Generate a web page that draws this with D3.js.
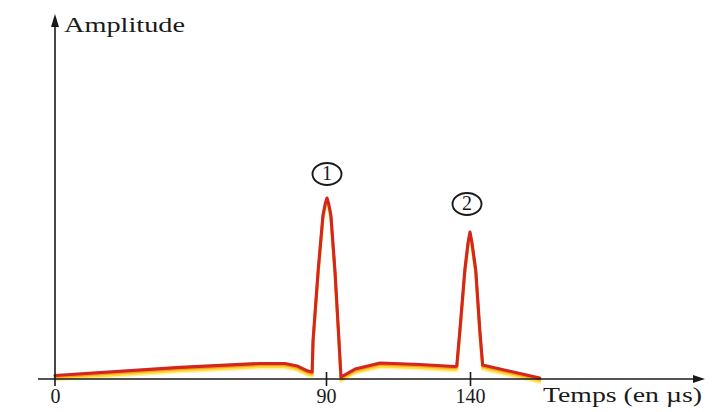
<!DOCTYPE html>
<html>
<head>
<meta charset="utf-8">
<script src="https://cdn.jsdelivr.net/npm/d3@7"></script>
<style>
  html, body { margin: 0; padding: 0; background: #ffffff; }
  svg { display: block; }
  text { font-family: "Liberation Serif", "Times New Roman", serif; fill: #1a1a1a; }
</style>
</head>
<body>
<svg id="chart" width="718" height="412"></svg>
<script>
// ---- Data ----
const tickValues = [0, 90, 140];
const tickLabels = ["0", "90", "140"];
const timeUs = [0, 41.5, 68.1, 76.4, 80.4, 84.0, 85.4, 85.7, 87.4, 89.0, 89.8, 90.35, 90.87, 91.7, 93.1, 94.5, 95.2,
                100.1, 108.8, 122.6, 134.7, 135.4, 136.5, 138.2, 139.3, 140.0, 140.7, 142.0, 143.4, 144.4, 164.2];
const amplitude = [0.19, 0.64, 0.86, 0.86, 0.72, 0.44, 0.39, 2.15, 6.02, 9.06, 9.72, 10.0, 9.72, 9.06, 6.02, 2.15, 0.11,
                   0.55, 0.88, 0.80, 0.69, 0.72, 2.71, 6.02, 7.51, 8.12, 7.51, 6.02, 2.71, 0.77, 0.06];
const peakLabels = ["1", "2"];
const peakLabelTime = [90.35, 138.96];
const peakLabelAmp = [11.33, 9.67];
const yAxisTitle = "Amplitude";
const xAxisTitle = "Temps (en µs)";

// ---- Layout ----
const svg = d3.select("#chart");
const x = d3.scaleLinear().domain([0, 90, 140]).range([55, 326, 470]);
const y = d3.scaleLinear().domain([0, 20]).range([379, 17]);
const x0 = x(0), y0 = y(0);

const pts = timeUs.map((t, i) => [t, amplitude[i]]);
const line = d3.line().x(d => x(d[0])).y(d => y(d[1])).curve(d3.curveLinear);

// signal: yellow/orange glow under a red line
const sig = svg.append("g").attr("fill", "none").attr("stroke-linejoin", "round").attr("stroke-linecap", "round");
sig.append("path").attr("d", line(pts))
  .attr("stroke", "#fff1a6").attr("stroke-width", 3).attr("transform", "translate(0,4.5)");
sig.append("path").attr("d", line(pts))
  .attr("stroke", "#ffd83a").attr("stroke-width", 3).attr("transform", "translate(0,3)");
sig.append("path").attr("d", line(pts))
  .attr("stroke", "#f5a020").attr("stroke-width", 2.6).attr("transform", "translate(0,1.5)");
sig.append("path").attr("d", line(pts))
  .attr("stroke", "#d3261f").attr("stroke-width", 3.1);

// x axis
const xAxis = d3.axisBottom(x).tickValues(tickValues)
  .tickFormat((d, i) => tickLabels[i]).tickSizeOuter(0).tickSizeInner(7).tickPadding(3);
const gx = svg.append("g").attr("transform", `translate(0,${y0})`).call(xAxis);
gx.select(".domain").remove();
gx.selectAll(".tick line").attr("y1", d => d === 0 ? 0 : -7).attr("y2", d => d === 0 ? 0 : 7)
  .attr("stroke", "#1a1a1a").attr("stroke-width", 1.6);
gx.selectAll(".tick text").attr("font-size", 20).attr("font-family", "Liberation Serif")
  .attr("fill", "#1a1a1a");

// axis lines with arrows
svg.append("line").attr("x1", 38).attr("x2", 697).attr("y1", y0).attr("y2", y0)
  .attr("stroke", "#1a1a1a").attr("stroke-width", 1.6);
svg.append("path").attr("d", `M705,${y0} L693,${y0 - 4} L693,${y0 + 4} Z`).attr("fill", "#1a1a1a");
svg.append("line").attr("x1", x0).attr("x2", x0).attr("y1", 386).attr("y2", 24)
  .attr("stroke", "#1a1a1a").attr("stroke-width", 1.6);
svg.append("path").attr("d", `M${x0},14 L${x0 - 4},27 L${x0 + 4},27 Z`).attr("fill", "#1a1a1a");

// axis titles
svg.append("text").attr("x", 64).attr("y", 32).attr("font-size", 22)
  .attr("textLength", 121).attr("lengthAdjust", "spacingAndGlyphs").text(yAxisTitle);
svg.append("text").attr("x", 543).attr("y", 402).attr("font-size", 21)
  .attr("textLength", 159).attr("lengthAdjust", "spacingAndGlyphs").text(xAxisTitle);

// circled peak labels
const lab = svg.append("g").selectAll("g").data(peakLabels).join("g")
  .attr("transform", (d, i) => `translate(${x(peakLabelTime[i])},${y(peakLabelAmp[i])})`);
lab.append("ellipse").attr("rx", 14.5).attr("ry", 11).attr("fill", "none")
  .attr("stroke", "#1a1a1a").attr("stroke-width", 1.9);
lab.append("text").attr("text-anchor", "middle").attr("y", 6.5).attr("font-size", 20)
  .text(d => d);
</script>
</body>
</html>
